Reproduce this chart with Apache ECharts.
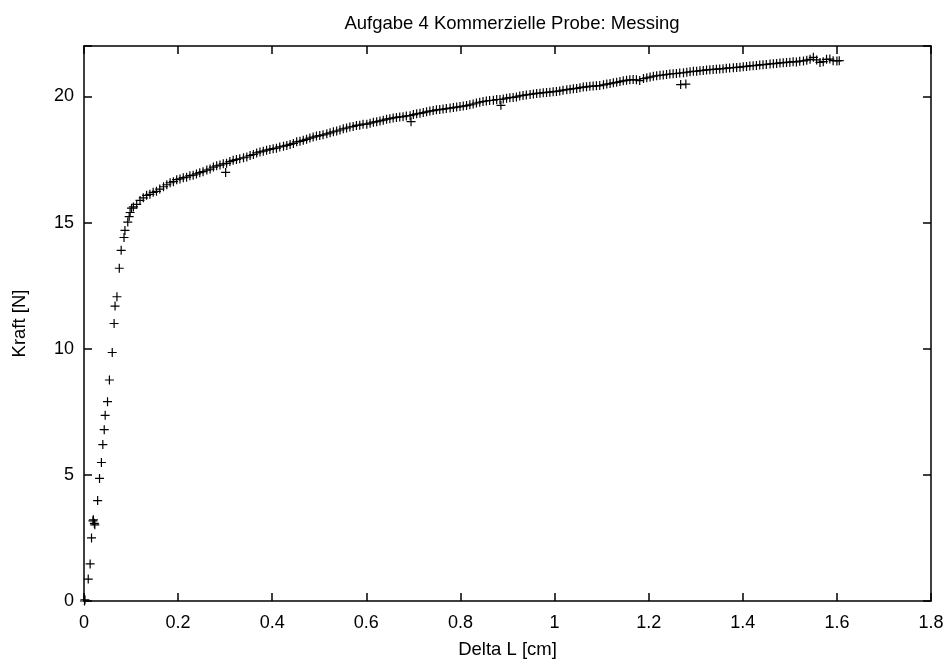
<!DOCTYPE html>
<html>
<head>
<meta charset="utf-8">
<script src="https://cdn.jsdelivr.net/npm/echarts@6/dist/echarts.min.js"></script>
<style>
html,body{margin:0;padding:0;background:#fff;}
#chart{width:947px;height:664px;}
</style>
</head>
<body>
<div id="chart"></div>
<script>
var titleText = 'Aufgabe 4 Kommerzielle Probe: Messing';
var xAxisName = 'Delta L [cm]';
var yAxisName = 'Kraft [N]';
var xTicks = [0, 0.2, 0.4, 0.6, 0.8, 1, 1.2, 1.4, 1.6, 1.8];
var yTicks = [0, 5, 10, 15, 20];

var deltaL = [
  0.001,0.002,0.009,0.013,0.016,0.019,0.020,0.022,0.023,0.029,0.033,0.037,0.040,0.043,0.045,0.050,0.054,0.060,0.064,0.066,0.070,0.075,0.079,0.085,0.087,0.093,0.096,0.098,0.101,
  0.105,0.112,0.119,0.126,0.133,0.140,0.147,0.154,0.161,0.169,0.176,0.183,0.190,0.197,0.204,0.211,0.218,0.225,0.232,0.239,0.246,0.253,0.261,0.268,0.275,0.282,0.289,0.296,0.301,0.303,
  0.310,0.317,0.324,0.331,0.339,0.346,0.353,0.360,0.367,0.374,0.381,0.388,0.395,0.402,0.409,0.416,0.424,0.431,0.438,0.445,0.452,0.459,0.466,0.473,0.480,0.487,0.494,0.501,0.508,0.516,
  0.523,0.530,0.537,0.544,0.551,0.558,0.565,0.572,0.579,0.586,0.593,0.601,0.608,0.615,0.622,0.629,0.636,0.643,0.650,0.657,0.664,0.671,0.678,0.685,0.693,0.695,0.700,0.707,0.714,0.721,
  0.728,0.735,0.742,0.749,0.756,0.763,0.770,0.778,0.785,0.792,0.799,0.806,0.813,0.820,0.827,0.834,0.841,0.848,0.855,0.862,0.870,0.877,0.884,0.886,0.891,0.898,0.905,0.912,0.919,0.926,
  0.933,0.940,0.948,0.955,0.962,0.969,0.976,0.983,0.990,0.997,1.004,1.011,1.018,1.026,1.033,1.040,1.047,1.054,1.061,1.068,1.075,1.082,1.089,1.096,1.104,1.111,1.118,1.125,1.132,1.139,
  1.146,1.153,1.160,1.167,1.174,1.181,1.189,1.196,1.203,1.210,1.217,1.224,1.231,1.238,1.245,1.252,1.259,1.266,1.268,1.279,1.274,1.281,1.288,1.295,1.302,1.309,1.316,1.323,1.330,1.337,
  1.344,1.351,1.358,1.365,1.372,1.380,1.387,1.394,1.401,1.408,1.415,1.422,1.429,1.436,1.443,1.450,1.458,1.465,1.472,1.479,1.486,1.493,1.500,1.507,1.514,1.521,1.529,1.536,1.543,1.550,
  1.557,1.564,1.571,1.578,1.585,1.592,1.600,1.605
];
var kraft = [
  0.00,0.05,0.87,1.47,2.50,3.18,3.22,3.08,3.02,3.98,4.86,5.49,6.20,6.79,7.36,7.90,8.76,9.85,11.00,11.69,12.06,13.19,13.90,14.41,14.69,15.02,15.24,15.40,15.57,
  15.62,15.72,15.88,15.98,16.08,16.12,16.20,16.24,16.33,16.42,16.50,16.58,16.62,16.70,16.73,16.78,16.80,16.86,16.88,16.93,16.98,17.02,17.08,17.12,17.20,17.25,17.28,17.33,16.99,17.35,
  17.42,17.47,17.50,17.53,17.57,17.60,17.66,17.70,17.76,17.80,17.83,17.87,17.90,17.93,17.95,18.00,18.03,18.06,18.10,18.14,18.20,18.22,18.26,18.30,18.35,18.39,18.43,18.45,18.48,18.52,
  18.56,18.60,18.63,18.67,18.72,18.75,18.79,18.81,18.85,18.86,18.90,18.90,18.94,18.98,19.00,19.03,19.06,19.10,19.12,19.15,19.17,19.19,19.20,19.23,19.24,19.00,19.28,19.31,19.33,19.36,
  19.39,19.42,19.44,19.47,19.48,19.50,19.52,19.54,19.56,19.58,19.60,19.62,19.64,19.67,19.70,19.74,19.77,19.80,19.82,19.84,19.85,19.88,19.88,19.65,19.90,19.93,19.95,19.96,19.98,20.02,
  20.04,20.06,20.08,20.10,20.12,20.13,20.15,20.16,20.17,20.19,20.20,20.22,20.25,20.27,20.29,20.31,20.32,20.35,20.37,20.38,20.40,20.41,20.42,20.43,20.46,20.49,20.51,20.54,20.56,20.59,
  20.62,20.64,20.66,20.67,20.66,20.63,20.71,20.74,20.77,20.80,20.82,20.84,20.85,20.87,20.89,20.90,20.91,20.93,20.47,20.49,20.94,20.96,20.98,21.00,21.00,21.02,21.03,21.05,21.06,21.07,
  21.08,21.09,21.10,21.12,21.13,21.14,21.15,21.16,21.18,21.19,21.21,21.22,21.23,21.25,21.26,21.27,21.29,21.30,21.31,21.33,21.34,21.35,21.36,21.38,21.37,21.40,21.41,21.44,21.47,21.55,
  21.45,21.35,21.38,21.47,21.48,21.42,21.41,21.42
];

var points = deltaL.map(function (x, i) { return [x, kraft[i]]; });
var FONT = 'Liberation Sans, Arial, sans-serif';

var chart = echarts.init(document.getElementById('chart'), null, {renderer: 'canvas'});
var tickStyle = {show: true, inside: true, length: 8, lineStyle: {color: '#000', width: 1.5}};
var lineStyle = {show: true, onZero: false, lineStyle: {color: '#000', width: 1.5}};
chart.setOption({
  animation: false,
  backgroundColor: '#fff',
  title: {
    text: titleText, left: 507, top: 9, textAlign: 'center',
    textStyle: {fontFamily: FONT, fontSize: 18.5, fontWeight: 'normal', color: '#000'}
  },
  grid: {left: 84, right: 16, top: 46, bottom: 59, containLabel: false},
  xAxis: [{
    type: 'value', min: 0, max: 1.8, interval: 0.2, position: 'bottom',
    name: xAxisName, nameLocation: 'middle', nameGap: 39,
    nameTextStyle: {fontFamily: FONT, fontSize: 18.5, color: '#000', verticalAlign: 'top'},
    axisLine: lineStyle, axisTick: tickStyle, splitLine: {show: false},
    axisLabel: {fontFamily: FONT, fontSize: 18, color: '#000', margin: 13,
      formatter: function (v) { var r = Math.round(v * 10) / 10; return xTicks.indexOf(r) >= 0 ? String(r) : ''; }}
  }, {
    type: 'value', min: 0, max: 1.8, interval: 0.2, position: 'top',
    axisLine: lineStyle, axisTick: tickStyle, axisLabel: {show: false}, splitLine: {show: false}
  }],
  yAxis: [{
    type: 'value', min: 0, max: 22, interval: 5, position: 'left',
    name: yAxisName, nameLocation: 'middle', nameGap: 55, nameRotate: 90,
    nameTextStyle: {fontFamily: FONT, fontSize: 18.5, color: '#000'},
    axisLine: lineStyle, axisTick: tickStyle, splitLine: {show: false},
    axisLabel: {fontFamily: FONT, fontSize: 18, color: '#000', margin: 10,
      formatter: function (v) { return yTicks.indexOf(v) >= 0 ? String(v) : ''; }}
  }, {
    type: 'value', min: 0, max: 22, interval: 5, position: 'right',
    axisLine: lineStyle, axisTick: tickStyle, axisLabel: {show: false}, splitLine: {show: false}
  }],
  series: [{
    type: 'scatter', xAxisIndex: 0, yAxisIndex: 0,
    data: points,
    symbol: 'path://M5,0L5,10M0,5L10,5',
    symbolSize: 9,
    itemStyle: {color: 'none', borderColor: '#000', borderWidth: 1.2, opacity: 1},
    emphasis: {disabled: true}
  }]
});
</script>
</body>
</html>
